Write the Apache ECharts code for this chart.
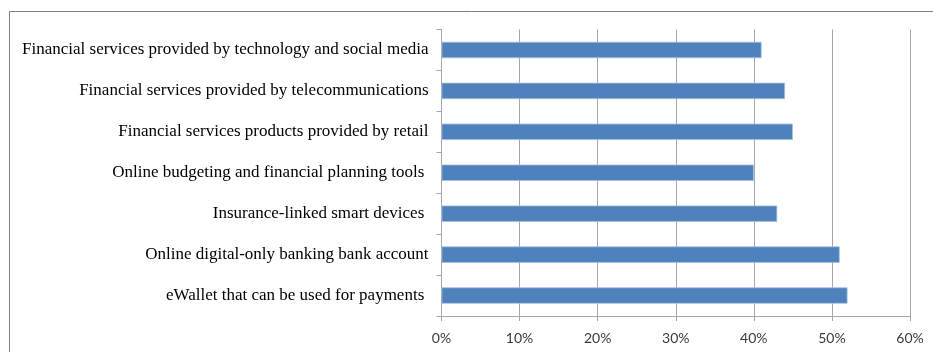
<!DOCTYPE html>
<html>
<head>
<meta charset="utf-8">
<script src="https://cdn.jsdelivr.net/npm/echarts@6/dist/echarts.min.js"></script>
<style>
  html, body { margin: 0; padding: 0; background: #ffffff; }
  #chart { width: 933px; height: 352px; }
</style>
</head>
<body>
<div id="chart"></div>
<script>
// Survey categories, listed top to bottom
const categories = [
  'Financial services provided by technology and social media',
  'Financial services provided by telecommunications',
  'Financial services products provided by retail',
  'Online budgeting and financial planning tools ',
  'Insurance-linked smart devices ',
  'Online digital-only banking bank account',
  'eWallet that can be used for payments '
];

// Share of respondents (%)
const shares = [41, 44, 45, 40, 43, 51, 52];

// Value axis ticks (%)
const axisMin = 0;
const axisMax = 60;
const axisStep = 10;

const chart = echarts.init(document.getElementById('chart'), null, { renderer: 'canvas' });

chart.setOption({
  animation: false,
  backgroundColor: '#ffffff',
  // outer chart-area frame
  graphic: [{
    type: 'rect',
    shape: { x: 9.5, y: 11.5, width: 1000, height: 500 },
    style: { fill: 'none', stroke: '#808080', lineWidth: 1 },
    silent: true,
    z: -1
  }],
  grid: {
    left: 441.5,
    right: 23,
    top: 29.5,
    bottom: 36
  },
  xAxis: {
    type: 'value',
    min: axisMin,
    max: axisMax,
    interval: axisStep,
    axisLine: { show: true, lineStyle: { color: '#a6a6a6', width: 1 } },
    axisTick: { show: true, length: 5, lineStyle: { color: '#a6a6a6' } },
    splitLine: { show: true, lineStyle: { color: '#a6a6a6', width: 1 } },
    axisLabel: {
      formatter: '{value}%',
      color: '#3a3a3a',
      fontFamily: 'Lato',
      fontSize: 14,
      margin: 15
    }
  },
  yAxis: {
    type: 'category',
    inverse: true,
    data: categories,
    axisLine: { show: true, lineStyle: { color: '#a6a6a6', width: 1 } },
    axisTick: { show: true, length: 5, alignWithLabel: false, lineStyle: { color: '#a6a6a6' } },
    splitLine: { show: false },
    axisLabel: {
      color: '#000000',
      fontFamily: 'Liberation Serif',
      fontSize: 17,
      margin: 13
    }
  },
  series: [{
    type: 'bar',
    data: shares,
    barCategoryGap: '60%',
    itemStyle: {
      color: '#4f81bd',
      borderColor: '#a7c0e2',
      borderWidth: 0.8
    }
  }]
});
</script>
</body>
</html>
